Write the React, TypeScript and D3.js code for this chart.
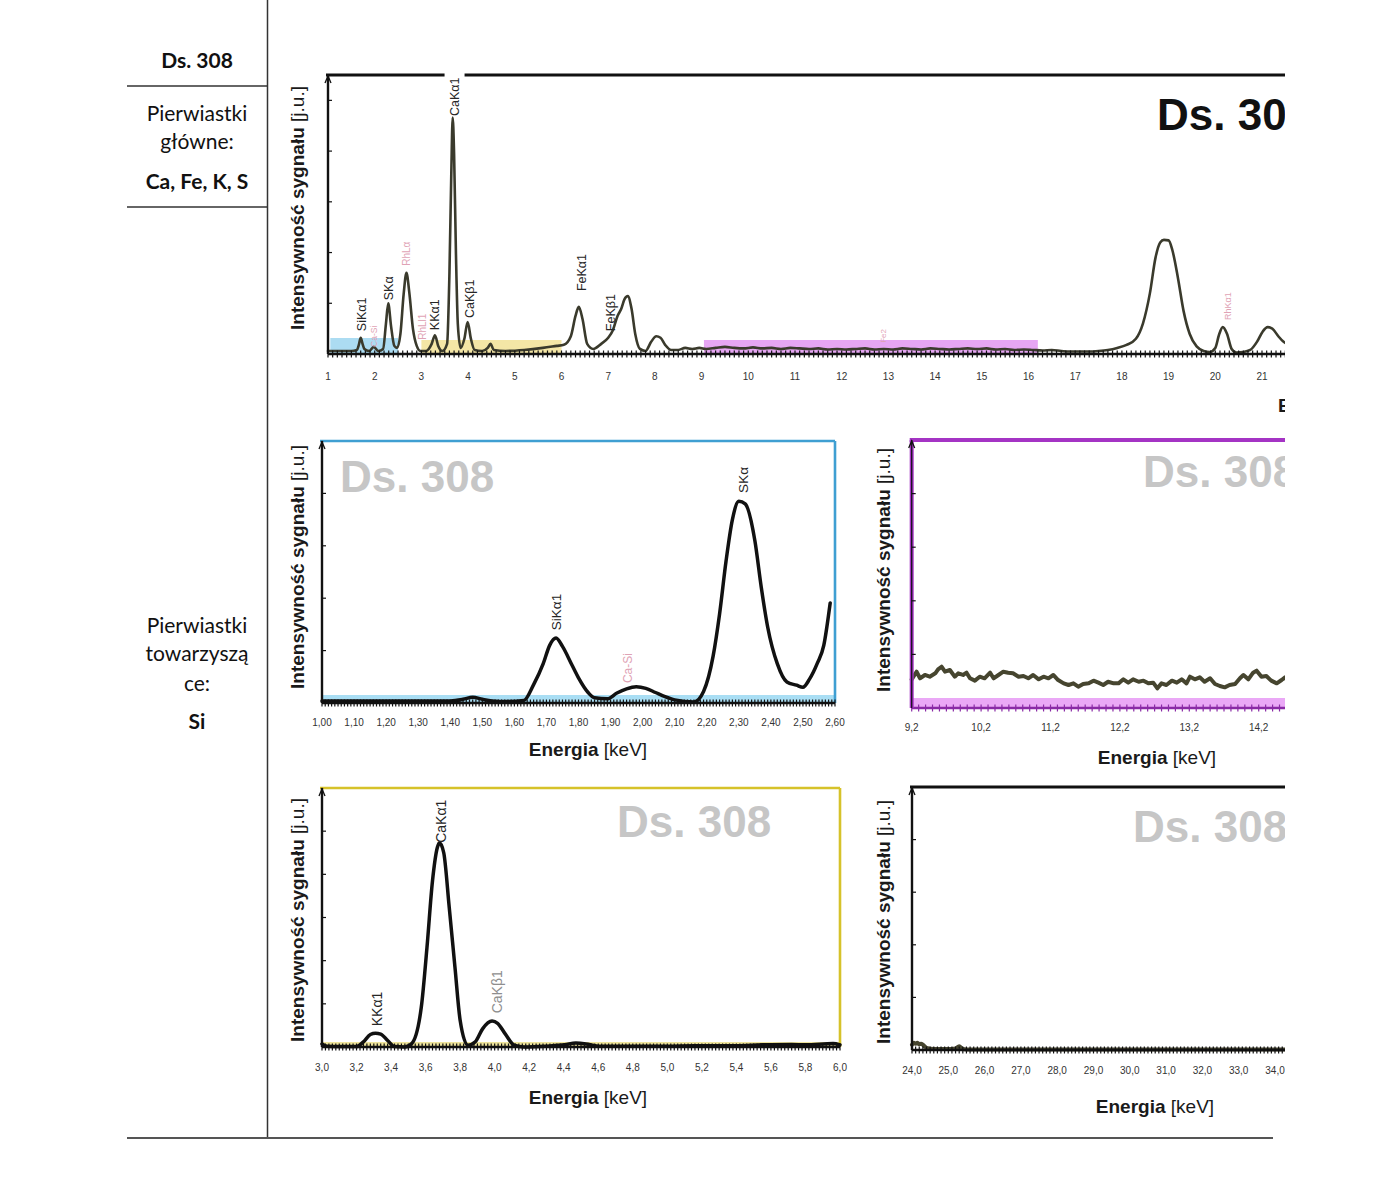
import React from 'react';
import * as d3 from 'd3';

const loc = d3.formatLocale({ decimal: ',', thousands: ' ', grouping: [3], currency: ['', ''] });
const f2 = loc.format('.2f');
const f1 = loc.format('.1f');
const f0 = loc.format('d');

const SANS = "'Liberation Sans', Arial, sans-serif";
const TABLE_FONT = "Lato, 'Open Sans', sans-serif";
const CLIP_X = 1285;

// ---------- Overview spectrum (1–22 keV) ----------
const TOP_KEV = [1.00,1.50,1.62,1.66,1.70,1.74,1.78,1.88,1.98,2.08,2.18,2.24,2.29,2.35,2.42,2.48,2.55,2.62,2.68,2.74,2.82,2.90,2.98,3.10,3.22,3.29,3.36,3.45,3.55,3.60,3.64,3.67,3.70,3.74,3.78,3.84,3.92,3.99,4.06,4.14,4.30,4.42,4.48,4.55,4.80,5.20,5.60,5.90,6.05,6.20,6.30,6.37,6.45,6.55,6.68,6.85,7.00,7.10,7.20,7.28,7.35,7.42,7.50,7.58,7.68,7.80,7.92,8.03,8.12,8.22,8.35,8.50,8.65,8.80,8.95,
  9.1,9.3,9.5,9.7,9.9,10.1,10.3,10.5,10.7,10.9,11.1,11.3,11.5,11.7,11.9,12.1,12.3,12.5,12.7,12.9,13.1,13.3,13.5,13.7,13.9,14.1,14.3,14.5,14.7,14.9,15.1,15.3,15.5,15.7,15.9,16.1,16.3,16.5,16.7,16.9,17.1,17.3,17.5,17.7,17.9,
  18.1,18.3,18.45,18.6,18.72,18.82,18.9,19.0,19.08,19.2,19.32,19.45,19.6,19.75,19.88,20.0,20.08,20.16,20.25,20.35,20.45,20.6,20.75,20.9,21.02,21.12,21.22,21.35,21.45,21.6];
const TOP_INT = [6,6,8,18,32,20,10,6,14,6,10,59,100,55,16,12,39,118,160,122,49,16,6,6,20,37,16,6,20,158,355,466,394,197,59,12,30,63,30,8,6,12,20,8,6,8,12,16,18,35,75,93,69,20,10,20,32,47,75,89,108,114,89,39,10,6,24,35,32,18,8,8,12,10,12,
  10,12,14,12,11,13,11,12,10,12,11,10,11,9,10,9,10,11,9,10,9,11,10,9,11,10,9,10,11,10,11,9,10,8,9,8,7,8,6,5,5,5,6,8,12,
  18,30,60,120,190,220,225,224,205,150,85,40,15,6,4,12,38,53,40,10,3,4,8,25,45,53,50,35,25,18];
const TOP_TICKS = [1,2,3,4,5,6,7,8,9,10,11,12,13,14,15,16,17,18,19,20,21,22,23,24];
const TOP_LABELS = [
  { t: 'SiKα1', e: 1.707, v: 45, k: 'dark' },
  { t: 'Ca-Si', e: 1.985, v: 14, k: 'pink', fs: 8.5 },
  { t: 'SKα', e: 2.306, v: 106, k: 'dark' },
  { t: 'RhLα', e: 2.68, v: 174, k: 'pink', fs: 10 },
  { t: 'RhLl1', e: 3.02, v: 28, k: 'pink', fs: 10 },
  { t: 'KKα1', e: 3.29, v: 47, k: 'dark' },
  { t: 'CaKα1', e: 3.71, v: 469, k: 'dark', bg: true },
  { t: 'CaKβ1', e: 4.02, v: 71, k: 'dark' },
  { t: 'FeKα1', e: 6.42, v: 124, k: 'dark' },
  { t: 'FeKβ1', e: 7.04, v: 45, k: 'dark' },
  { t: 'Fe2', e: 12.88, v: 22, k: 'pink', fs: 8 },
  { t: 'RhKα1', e: 20.27, v: 67, k: 'pink', fs: 9 },
];

// ---------- Zoom 1.00–2.60 keV ----------
const SI_KEV = [1.00,1.20,1.40,1.44,1.47,1.50,1.53,1.58,1.63,1.66,1.69,1.71,1.73,1.75,1.78,1.80,1.83,1.85,1.89,1.92,1.95,1.98,2.01,2.04,2.07,2.10,2.16,2.19,2.22,2.24,2.26,2.28,2.30,2.32,2.35,2.37,2.39,2.42,2.45,2.48,2.50,2.52,2.545,2.565,2.585];
const SI_INT = [4,4,4,7,11,7,4,3,5,35,75,110,124,108,72,48,20,10,8,19,27,31,28,20,12,6,2,22,90,170,270,350,385,380,310,221,145,75,40,34,30,45,76,110,191];
const SI_TICKS = [1.0,1.1,1.2,1.3,1.4,1.5,1.6,1.7,1.8,1.9,2.0,2.1,2.2,2.3,2.4,2.5,2.6];
const SI_LABELS = [
  { t: 'SiKα1', e: 1.731, v: 139, k: 'dark' },
  { t: 'Ca-Si', e: 1.953, v: 38, k: 'pink', fs: 12 },
  { t: 'SKα', e: 2.313, v: 401, k: 'dark' },
];

// ---------- Zoom 9.2–14.6 keV ----------
const FE_KEV = [9.20,9.27,9.32,9.39,9.46,9.54,9.58,9.63,9.68,9.75,9.82,9.87,9.94,9.99,10.04,10.11,10.18,10.25,10.33,10.38,10.45,10.52,10.59,10.66,10.74,10.81,10.88,10.95,11.03,11.10,11.17,11.24,11.31,11.39,11.46,11.53,11.60,11.67,11.75,11.82,11.89,11.96,12.03,12.11,12.18,12.25,12.32,12.39,12.47,12.54,12.61,12.68,12.74,12.80,12.87,12.95,13.02,13.09,13.16,13.21,13.28,13.35,13.42,13.50,13.57,13.64,13.71,13.78,13.86,13.93,13.98,14.05,14.12,14.17,14.24,14.31,14.38,14.46,14.53,14.58,14.66];
const FE_INT = [53.5,67.7,55.4,61.6,58.4,64.7,72.1,77.0,67.7,70.9,58.4,64.7,61.6,65.9,55.4,51.0,58.4,55.4,65.9,55.4,61.6,67.7,65.9,64.7,58.4,59.7,55.4,61.6,53.5,58.4,55.4,61.6,52.2,46.0,42.9,46.0,39.8,44.8,46.0,51.0,47.3,42.9,49.0,46.0,46.0,53.5,47.3,53.5,49.0,51.0,46.0,47.3,36.7,46.0,42.9,51.0,47.3,53.5,46.0,58.4,53.5,57.2,49.0,55.4,44.8,41.0,38.5,42.9,44.8,55.4,61.6,53.5,65.9,69.7,58.4,59.7,51.0,46.0,52.2,57.2,50.0];
const FE_TICKS = [9.2,10.2,11.2,12.2,13.2,14.2,15.2];

// ---------- Zoom 3.0–6.0 keV ----------
const CA_KEV = [3.00,3.03,3.10,3.20,3.24,3.28,3.31,3.34,3.38,3.42,3.48,3.52,3.575,3.608,3.64,3.668,3.68,3.705,3.737,3.77,3.80,3.845,3.888,3.93,3.985,4.017,4.06,4.114,4.17,4.30,4.405,4.47,4.53,4.60,4.80,5.00,5.16,5.40,5.55,5.72,5.80,5.96,6.00];
const CA_INT = [7,2,1,1,12,29,32,30,15,1,0,8,92,231,385,462,473,450,323,185,62,4,12,42,60,55,31,4,0,2,5,9,7,2,2,2,3,3,5,6,5,8,5];
const CA_TICKS = [3.0,3.2,3.4,3.6,3.8,4.0,4.2,4.4,4.6,4.8,5.0,5.2,5.4,5.6,5.8,6.0];
const CA_LABELS = [
  { t: 'KKα1', e: 3.318, v: 48, k: 'dark' },
  { t: 'CaKα1', e: 3.689, v: 473, k: 'dark' },
  { t: 'CaKβ1', e: 4.013, v: 78, k: 'grey' },
];

// ---------- Zoom 24–35 keV ----------
const HI_KEV = [24.0,24.05,24.1,24.15,24.2,24.25,24.3,24.4,24.6,25.0,25.2,25.3,25.4,25.6,26,28,30,32,34,36];
const HI_INT = [10,14,12,14,11,12,10,4,2,2,3,7,2,1,1,1,1,1,1,1];
const HI_TICKS = [24,25,26,27,28,29,30,31,32,33,34,35];

const LABEL_COLORS: Record<string, string> = { dark: '#262626', pink: '#dfa3b5', grey: '#8e8e8e' };

function Panel(p: any) {
  const xs = d3.scaleLinear().domain(p.dom).range([p.x0, p.x1]);
  const ys = d3.scaleLinear().domain([0, p.yMax]).range([p.yBot, p.yTop]);
  const pts: [number, number][] = p.kev.map((k: number, i: number) => [k, p.val[i]]);
  const path = d3.line<[number, number]>().x(d => xs(d[0])).y(d => ys(d[1])).curve(p.curve)(pts) || '';
  const n0 = Math.round(p.dom[0] / p.minor);
  const n1 = Math.round(p.dom[1] / p.minor);
  const minor = d3.range(n0, n1 + 1).map(i => i * p.minor).filter(v => xs(v) < CLIP_X + 4);
  const majors = p.majors.filter((v: number) => xs(v) < CLIP_X + 2);
  const xEnd = Math.min(p.x1, CLIP_X + 5);
  const rightEdge = p.x1 <= CLIP_X;
  return (
    <g>
      {p.bands.map((b: any, i: number) => (
        <rect key={i} x={xs(b.a)} width={Math.min(xs(b.b), xEnd) - xs(b.a)} y={p.yBot - b.h} height={b.h} fill={b.color} />
      ))}
      <line x1={p.x0 - 2} x2={xEnd} y1={p.yTop} y2={p.yTop} stroke={p.frame} strokeWidth={p.frameW} />
      {rightEdge && <line x1={xEnd} x2={xEnd} y1={p.yTop} y2={p.yBot} stroke={p.frame} strokeWidth={p.frameW} />}
      <path d={path} fill="none" stroke={p.line} strokeWidth={p.lineW} strokeLinejoin="round" strokeLinecap="round" />
      <line x1={p.x0} x2={xEnd} y1={p.yBot} y2={p.yBot} stroke={p.axis} strokeWidth={2.6} />
      {minor.map((v: number, i: number) => (
        <line key={i} x1={xs(v)} x2={xs(v)} y1={p.yBot - 3.5} y2={p.yBot + 3.5} stroke={p.axis} strokeWidth={1.2} />
      ))}
      {majors.map((v: number, i: number) => (
        <text key={i} x={xs(v)} y={p.tickY} textAnchor="middle" fontSize={10} fill="#333" fontFamily={SANS}>{p.fmt(v)}</text>
      ))}
      {p.leftFrame && <line x1={p.x0} x2={p.x0} y1={p.yTop} y2={p.yBot} stroke={p.frame} strokeWidth={p.frameW} />}
      <line x1={p.x0} x2={p.x0} y1={p.yTop} y2={p.yBot} stroke="#111" strokeWidth={p.leftFrame ? 1.2 : 2.4} />
      <path d={`M${p.x0 - 3},${p.yTop + 8}L${p.x0},${p.yTop + 1}L${p.x0 + 3},${p.yTop + 8}`} fill="none" stroke="#111" strokeWidth={1.3} />
      {p.yTicks.map((v: number, i: number) => (
        <line key={i} x1={p.x0} x2={p.x0 + 4} y1={ys(v)} y2={ys(v)} stroke="#111" strokeWidth={1.2} />
      ))}
      {p.labels.map((l: any, i: number) => {
        const fs = l.fs || p.labelFs;
        const cx = xs(l.e);
        return (
          <g key={i}>
            {l.bg && <rect x={cx - 10} y={p.yTop - 4} width={20} height={8} fill="#fff" />}
            <text transform={`translate(${cx + fs * 0.36},${ys(l.v)}) rotate(-90)`} fontSize={fs} fontFamily={SANS} fill={LABEL_COLORS[l.k]}>{l.t}</text>
          </g>
        );
      })}
      <text x={p.wm.x} y={p.wm.y} fontSize={p.wm.size} fontWeight="bold" fontFamily={SANS} fill={p.wm.color}>Ds. 308</text>
      <text x={p.xt.x} y={p.xt.y} textAnchor={p.xt.anchor || 'middle'} fontSize={19} fontFamily={SANS} fill="#1a1a1a">
        <tspan fontWeight="bold">{'Energia '}</tspan><tspan>{'[keV]'}</tspan>
      </text>
      <text transform={`translate(${p.yt.x},${p.yt.y}) rotate(-90)`} textAnchor="middle" fontSize={19} fontFamily={SANS} fill="#1a1a1a">
        <tspan fontWeight="bold">{'Intensywność sygnału '}</tspan><tspan>{'[j.u.]'}</tspan>
      </text>
    </g>
  );
}

export default function App() {
  const mono = d3.curveMonotoneX;
  return (
    <svg width={1400} height={1200} style={{ position: 'absolute', left: 0, top: 0 }} xmlns="http://www.w3.org/2000/svg">
      <rect width={1400} height={1200} fill="#fff" />
      <defs>
        <clipPath id="clipR"><rect x={0} y={0} width={CLIP_X} height={1200} /></clipPath>
      </defs>

      {/* table */}
      <g stroke="#333" strokeWidth={1.5}>
        <line x1={127} x2={267} y1={86} y2={86} />
        <line x1={127} x2={267} y1={207} y2={207} />
        <line x1={267.5} x2={267.5} y1={0} y2={1138} />
        <line x1={127} x2={1273} y1={1138} y2={1138} stroke="#555" strokeWidth={2} />
      </g>
      <g fontFamily={TABLE_FONT} fontSize={21} fill="#111" textAnchor="middle">
        <text x={197} y={68} fontWeight="bold">Ds. 308</text>
        <text x={197} y={121}>Pierwiastki</text>
        <text x={197} y={149}>główne:</text>
        <text x={197} y={189} fontWeight="bold">Ca, Fe, K, S</text>
        <text x={197} y={633}>Pierwiastki</text>
        <text x={197} y={661}>towarzyszą</text>
        <text x={197} y={691}>ce:</text>
        <text x={197} y={729} fontWeight="bold">Si</text>
      </g>

      <g clipPath="url(#clipR)">
        <Panel
          x0={328} x1={328 + 24 * 46.7} dom={[1, 25]} yTop={75} yBot={354} yMax={550} yTicks={[100, 200, 300, 400, 500]}
          kev={TOP_KEV} val={TOP_INT} curve={mono} line="#3a3a2c" lineW={2.6}
          minor={0.1} majors={TOP_TICKS} fmt={f0} tickY={380}
          frame="#111" frameW={3} axis="#111"
          bands={[{ a: 1.05, b: 2.5, h: 16, color: '#acdcf2' }, { a: 3.0, b: 6.0, h: 14, color: '#f4e6a6' }, { a: 9.05, b: 16.2, h: 14, color: '#e6a6f3' }]}
          labels={TOP_LABELS} labelFs={12.5}
          wm={{ x: 1157, y: 130, size: 44, color: '#111' }}
          xt={{ x: 1278, y: 412, anchor: 'start' }} yt={{ x: 304, y: 208 }}
        />
        <Panel
          x0={322} x1={835} dom={[1.0, 2.6]} yTop={441} yBot={703} yMax={500} yTicks={[100, 200, 300, 400]}
          kev={SI_KEV} val={SI_INT} curve={mono} line="#111" lineW={3.5}
          minor={0.01} majors={SI_TICKS} fmt={f2} tickY={726}
          frame="#3f9fd2" frameW={2.6} axis="#111"
          bands={[{ a: 1.0, b: 2.6, h: 8, color: '#a9def4' }]}
          labels={SI_LABELS} labelFs={13.5}
          wm={{ x: 340, y: 492, size: 44, color: '#c6c6c6' }}
          xt={{ x: 588, y: 756 }} yt={{ x: 304, y: 567 }}
        />
        <Panel
          x0={911.7} x1={911.7 + 7 * 69.4} dom={[9.2, 16.2]} yTop={440} yBot={708} yMax={500} yTicks={[100, 200, 300, 400]}
          kev={FE_KEV} val={FE_INT} curve={d3.curveLinear} line="#46452f" lineW={4}
          minor={0.1} majors={FE_TICKS} fmt={f1} tickY={731}
          frame="#a434c4" frameW={4} axis="#8a2aa6" leftFrame
          bands={[{ a: 9.2, b: 16.2, h: 10, color: '#eaa8f6' }]}
          labels={[]} labelFs={13}
          wm={{ x: 1143, y: 487, size: 44, color: '#c6c6c6' }}
          xt={{ x: 1157, y: 764 }} yt={{ x: 890, y: 570 }}
        />
        <Panel
          x0={322} x1={840} dom={[3.0, 6.0]} yTop={788} yBot={1047} yMax={600} yTicks={[100, 200, 300, 400, 500]}
          kev={CA_KEV} val={CA_INT} curve={mono} line="#111" lineW={3.5}
          minor={0.02} majors={CA_TICKS} fmt={f1} tickY={1071}
          frame="#d6c22a" frameW={2.6} axis="#111"
          bands={[{ a: 3.0, b: 6.0, h: 5, color: '#efe49c' }]}
          labels={CA_LABELS} labelFs={14}
          wm={{ x: 617, y: 837, size: 44, color: '#c6c6c6' }}
          xt={{ x: 588, y: 1104 }} yt={{ x: 304, y: 920 }}
        />
        <Panel
          x0={912} x1={912 + 12 * 36.3} dom={[24, 36]} yTop={787} yBot={1050} yMax={500} yTicks={[100, 200, 300, 400]}
          kev={HI_KEV} val={HI_INT} curve={mono} line="#46452f" lineW={4}
          minor={0.1} majors={HI_TICKS} fmt={f1} tickY={1074}
          frame="#111" frameW={3} axis="#111"
          bands={[]}
          labels={[]} labelFs={13}
          wm={{ x: 1133, y: 842, size: 44, color: '#c6c6c6' }}
          xt={{ x: 1155, y: 1113 }} yt={{ x: 890, y: 922 }}
        />
      </g>
    </svg>
  );
}
